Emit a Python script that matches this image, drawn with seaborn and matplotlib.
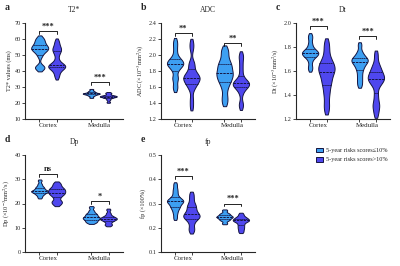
import numpy as np
import pandas as pd
import matplotlib
matplotlib.use("Agg")
import matplotlib.pyplot as plt
import seaborn as sns
from matplotlib.patches import Patch

# Datos estimados de la figura (valores individuales por grupo)
regions = ["Cortex", "Medulla"]
groups = ["5-year risks scores≤10%", "5-year risks scores>10%"]
palette = ["#3d9ff2", "#4f47ee"]

t2_cortex_low = [41, 42, 42.5, 43, 49, 51, 52, 53, 53.5, 54, 54, 55, 55.5, 56, 57, 58, 59, 60, 61]
t2_cortex_high = [36, 38, 40, 41, 42, 42.5, 43, 43, 43.5, 44, 45, 47, 50, 52, 53, 54, 55, 57, 59]
t2_medulla_low = [23.5, 24.5, 25, 25.5, 25.5, 26, 26, 26, 26.5, 27, 27.5, 28.5]
t2_medulla_high = [20.5, 22, 23, 23.5, 24, 24, 24, 24.5, 24.5, 25, 26, 26.5]

adc_cortex_low = [1.57, 1.62, 1.70, 1.72, 1.80, 1.84, 1.86, 1.88, 1.89, 1.90, 1.91, 1.93, 1.95, 1.98, 2.05, 2.12, 2.18]
adc_cortex_high = [1.35, 1.45, 1.58, 1.62, 1.65, 1.68, 1.70, 1.71, 1.72, 1.74, 1.76, 1.80, 1.88, 1.90, 2.08, 2.16]
adc_medulla_low = [1.40, 1.48, 1.58, 1.65, 1.68, 1.72, 1.75, 1.77, 1.80, 1.84, 1.87, 1.90, 1.95, 2.02, 2.08]
adc_medulla_high = [1.35, 1.40, 1.52, 1.58, 1.60, 1.62, 1.63, 1.64, 1.65, 1.66, 1.68, 1.72, 1.80, 1.88, 1.96, 2.01]

dt_cortex_low = [1.61, 1.64, 1.68, 1.71, 1.72, 1.73, 1.74, 1.75, 1.75, 1.76, 1.77, 1.78, 1.80, 1.83, 1.87, 1.90]
dt_cortex_high = [1.27, 1.33, 1.40, 1.45, 1.50, 1.52, 1.56, 1.59, 1.60, 1.62, 1.64, 1.66, 1.68, 1.72, 1.78, 1.84]
dt_medulla_low = [1.48, 1.52, 1.56, 1.60, 1.63, 1.65, 1.67, 1.68, 1.69, 1.70, 1.71, 1.73, 1.76, 1.82]
dt_medulla_high = [1.24, 1.30, 1.33, 1.40, 1.48, 1.51, 1.53, 1.54, 1.55, 1.57, 1.60, 1.62, 1.66, 1.74]

dp_cortex_low = [22.5, 23.5, 24, 24.5, 25, 25, 25, 25.5, 26, 26.5, 27, 28, 29.5]
dp_cortex_high = [19.5, 20.5, 21, 22.5, 23.5, 24, 24.5, 25, 25.5, 26, 26.5, 27.5, 28.5]
dp_medulla_low = [12, 12.5, 13, 13.5, 14, 14, 14.5, 15, 15.5, 16, 17, 18.5]
dp_medulla_high = [11, 11.5, 12.5, 13, 13.5, 13.5, 14, 14, 14.5, 15, 16, 17.5]

fp_cortex_low = [0.24, 0.26, 0.275, 0.285, 0.29, 0.30, 0.305, 0.31, 0.31, 0.315, 0.32, 0.33, 0.345, 0.36, 0.38]
fp_cortex_high = [0.185, 0.20, 0.22, 0.235, 0.24, 0.245, 0.25, 0.255, 0.26, 0.27, 0.28, 0.29, 0.30, 0.32, 0.34]
fp_medulla_low = [0.218, 0.23, 0.235, 0.24, 0.245, 0.245, 0.25, 0.255, 0.26, 0.272]
fp_medulla_high = [0.183, 0.195, 0.205, 0.215, 0.225, 0.23, 0.23, 0.235, 0.24, 0.245, 0.257]

# Paneles: letra, título, etiqueta y, límites, ticks, brackets (y) y asteriscos
panel_letters = ["a", "b", "c", "d", "e"]
panel_titles = ["T2*", "ADC", "Dt", "Dp", "fp"]
panel_ylabels = ["T2* values (ms)", "ADC (×10$^{-3}$mm$^2$/s)", "Dt (×10$^{-3}$mm$^2$/s)",
                 "Dp (×10$^{-3}$mm$^2$/s)", "fp (×100%)"]
panel_ylims = [(10, 70), (1.2, 2.4), (1.2, 2.0), (0, 40), (0.1, 0.5)]
panel_yticks = [[10, 20, 30, 40, 50, 60, 70],
                [1.2, 1.4, 1.6, 1.8, 2.0, 2.2, 2.4],
                [1.2, 1.4, 1.6, 1.8, 2.0],
                [0, 10, 20, 30, 40],
                [0.1, 0.2, 0.3, 0.4, 0.5]]
bracket_y = [(65, 33), (2.275, 2.15), (1.975, 1.89), (32.2, 21), (0.413, 0.30)]
bracket_stars = [("***", "***"), ("**", "**"), ("***", "***"), ("ns", "*"), ("***", "***")]

panel_data = [
    (t2_cortex_low, t2_cortex_high, t2_medulla_low, t2_medulla_high),
    (adc_cortex_low, adc_cortex_high, adc_medulla_low, adc_medulla_high),
    (dt_cortex_low, dt_cortex_high, dt_medulla_low, dt_medulla_high),
    (dp_cortex_low, dp_cortex_high, dp_medulla_low, dp_medulla_high),
    (fp_cortex_low, fp_cortex_high, fp_medulla_low, fp_medulla_high),
]


def to_long(cl, ch, ml, mh):
    rows = []
    for vals, reg, grp in [(cl, regions[0], groups[0]), (ch, regions[0], groups[1]),
                           (ml, regions[1], groups[0]), (mh, regions[1], groups[1])]:
        for v in vals:
            rows.append({"Region": reg, "Group": grp, "Value": v})
    return pd.DataFrame(rows)


sns.set_style("ticks")
plt.rcParams["font.family"] = ["Liberation Serif", "DejaVu Serif"]
plt.rcParams["mathtext.fontset"] = "stix"

fig = plt.figure(figsize=(4.0, 2.66), dpi=100)

W, H = 400.0, 266.0
# posiciones en píxeles (izq, arriba, ancho, alto)
boxes = [(25, 23, 98, 96), (161, 23, 94, 96), (296, 23, 94, 96),
         (25, 155, 98, 97), (161, 155, 94, 97)]

off = 0.175
for i in range(5):
    x0, y0, w, h = boxes[i]
    ax = fig.add_axes([x0 / W, 1 - (y0 + h) / H, w / W, h / H])
    df = to_long(*panel_data[i])
    sns.violinplot(data=df, x="Region", y="Value", hue="Group", hue_order=groups,
                   order=regions, palette=palette, inner="quart", cut=0.8,
                   width=0.66, bw_adjust=0.45, density_norm="width",
                   linewidth=0.7, linecolor="#141440", saturation=1,
                   legend=False, ax=ax)
    ax.set_xlim(-0.45, 1.45)
    ax.set_ylim(*panel_ylims[i])
    ax.set_yticks(panel_yticks[i])
    ax.set_yticklabels([f"{t:g}" if i in (0, 3) else f"{t:.1f}" for t in panel_yticks[i]])
    ax.set_xticks([0, 1])
    ax.set_xticklabels(regions, fontsize=5)
    ax.tick_params(axis="x", length=0, pad=3)
    ax.set_xticks([-off, off, 1 - off, 1 + off], minor=True)
    ax.tick_params(axis="x", which="minor", length=2, width=0.6)
    ax.tick_params(axis="y", labelsize=4.5, length=2, width=0.6, pad=1)
    ax.set_xlabel("")
    ax.set_ylabel(panel_ylabels[i], fontsize=4.5, labelpad=2)
    ax.set_title(panel_titles[i], fontsize=5.5, pad=8)
    for s in ["left", "bottom"]:
        ax.spines[s].set_linewidth(0.8)
    sns.despine(ax=ax)

    # brackets de significancia
    span = panel_ylims[i][1] - panel_ylims[i][0]
    tick = span * 0.03
    for j, c in enumerate([0, 1]):
        yb = bracket_y[i][j]
        ax.plot([c - off, c - off, c + off, c + off], [yb - tick, yb, yb, yb - tick],
                color="black", lw=0.6, clip_on=False)
        ax.text(c, yb + span * 0.005, bracket_stars[i][j], ha="center", va="bottom",
                fontsize=6, fontweight="bold")

    fig.text((x0 - 20) / W, 1 - (y0 - 15) / H, panel_letters[i], fontsize=7,
             fontweight="bold", ha="left", va="center")

handles = [Patch(facecolor=palette[k], edgecolor="#141440", linewidth=0.7, label=groups[k])
           for k in range(2)]
fig.legend(handles=handles, loc="upper left", bbox_to_anchor=(310 / W, 1 - 142 / H),
           frameon=False, fontsize=4.5, handlelength=1.2, handleheight=0.8,
           handletextpad=0.5, labelspacing=0.6)

fig.savefig("out.png", dpi=100)
